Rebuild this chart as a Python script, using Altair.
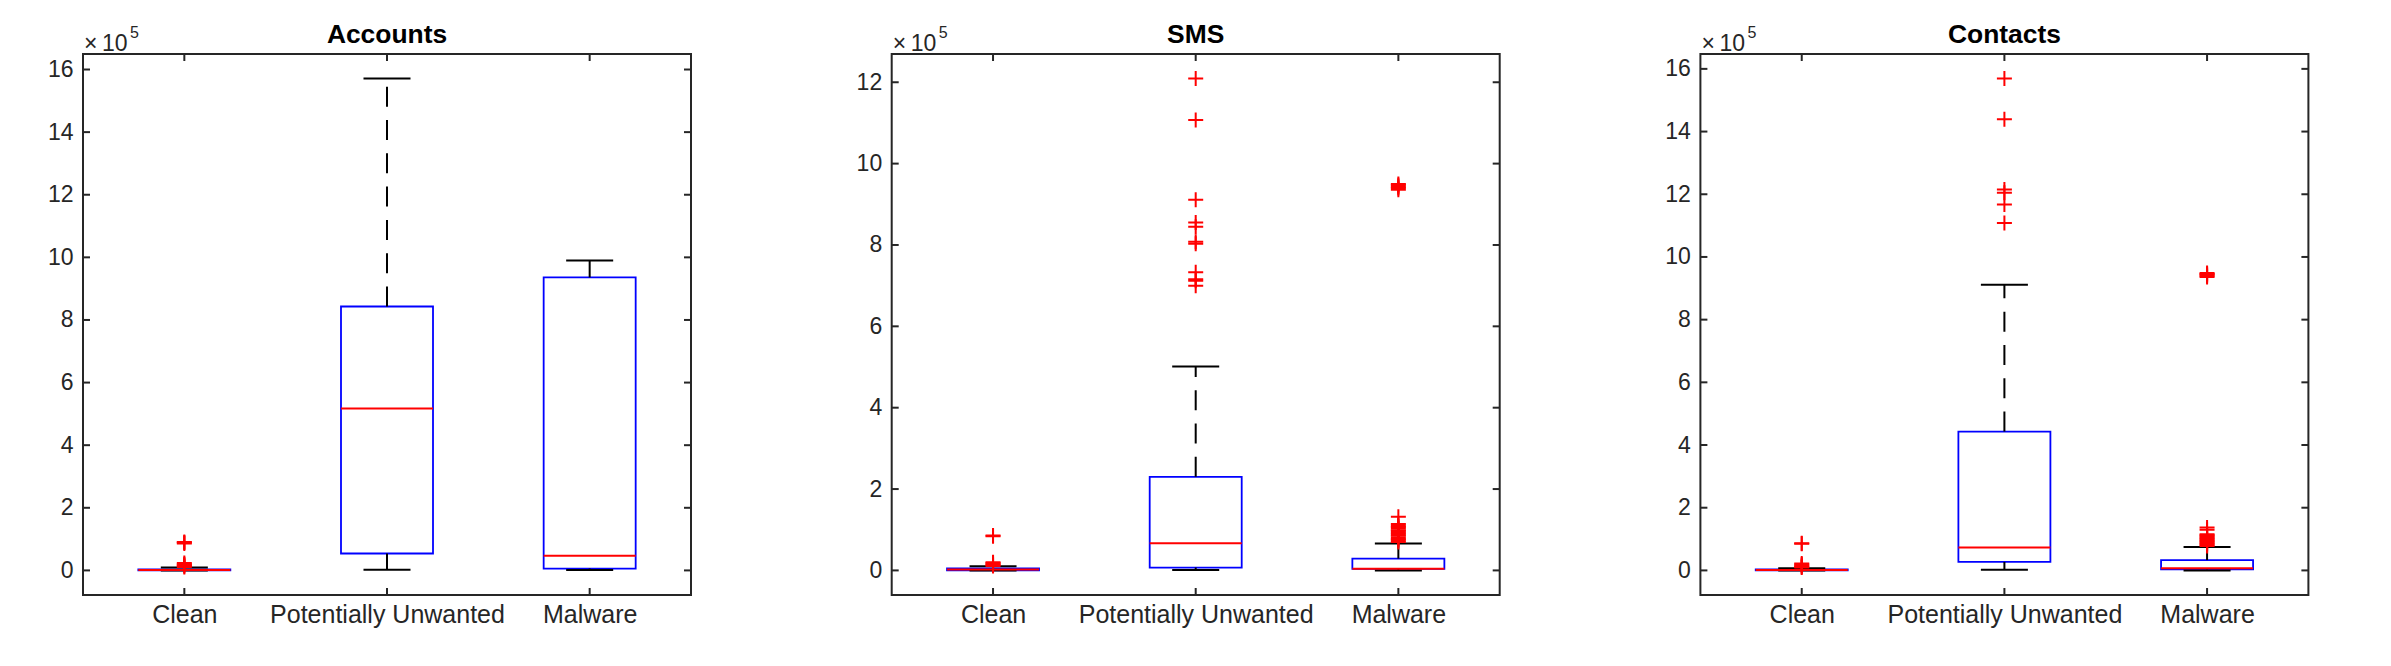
import altair as alt
import pandas as pd

# ---------------- data (values in units of 10^5) ----------------
categories = ["Clean", "Potentially Unwanted", "Malware"]
panel_titles = ["Accounts", "SMS", "Contacts"]

accounts_lo = [0.0, 0.02, 0.01]
accounts_q1 = [0.0, 0.54, 0.06]
accounts_med = [0.01, 5.17, 0.47]
accounts_q3 = [0.03, 8.43, 9.36]
accounts_hi = [0.09, 15.71, 9.90]
accounts_out = [[0.11, 0.14, 0.17, 0.20, 0.24, 0.86, 0.89, 0.91], [], []]
accounts_ticks = [0, 2, 4, 6, 8, 10, 12, 14, 16]

sms_lo = [0.0, 0.01, 0.0]
sms_q1 = [0.0, 0.07, 0.04]
sms_med = [0.02, 0.67, 0.04]
sms_q3 = [0.05, 2.30, 0.29]
sms_hi = [0.10, 5.01, 0.66]
sms_out = [
    [0.11, 0.13, 0.15, 0.18, 0.20, 0.84, 0.86],
    [7.00, 7.12, 7.16, 7.33, 8.03, 8.08, 8.45, 8.55, 9.11, 11.07, 12.09],
    [0.70, 0.74, 0.77, 0.81, 0.85, 0.88, 0.92, 0.96, 0.99, 1.03, 1.07, 1.10,
     1.14, 1.32, 9.36, 9.40, 9.43, 9.47, 9.50],
]
sms_ticks = [0, 2, 4, 6, 8, 10, 12]

contacts_lo = [0.0, 0.02, 0.0]
contacts_q1 = [0.0, 0.27, 0.03]
contacts_med = [0.01, 0.73, 0.07]
contacts_q3 = [0.03, 4.43, 0.33]
contacts_hi = [0.07, 9.11, 0.75]
contacts_out = [
    [0.09, 0.12, 0.15, 0.19, 0.22, 0.85, 0.87],
    [11.08, 11.67, 12.05, 12.15, 14.39, 15.69],
    [0.78, 0.82, 0.85, 0.88, 0.92, 0.95, 0.99, 1.02, 1.05, 1.09, 1.12, 1.15,
     1.30, 1.37, 9.36, 9.40, 9.43, 9.46, 9.49],
]
contacts_ticks = [0, 2, 4, 6, 8, 10, 12, 14, 16]

# ---------------- style ----------------
W, H = 608, 541
FONT = "Liberation Sans"
AX = "#262626"
BOX_HALF = 0.227
CAP_HALF = 0.116
PLUS = "M-1,0L1,0M0,-1L0,1"

label_expr = "[" + ",".join("'" + c + "'" for c in categories) + "][datum.value - 1]"


def txt(s, **kw):
    return alt.Chart(pd.DataFrame({"s": [s]})).mark_text(font=FONT, **kw)


def panel(title, lo, q1, med, q3, hi, outs, ticks):
    idx = list(range(1, len(categories) + 1))
    box_df = pd.DataFrame({"idx": idx, "lo": lo, "q1": q1, "med": med, "q3": q3, "hi": hi})
    out_df = pd.DataFrame(
        [{"idx": i + 1, "v": v} for i, vals in enumerate(outs) for v in vals],
        columns=["idx", "v"],
    )
    tick_df = pd.DataFrame({"t": ticks})
    cat_df = pd.DataFrame({"idx": idx})

    allv = hi + [v for vals in outs for v in vals]
    top, bot = max(allv), min(lo)
    rng = top - bot
    ydom = [bot - 0.05 * rng, top + 0.05 * rng]

    yscale = alt.Scale(domain=ydom, nice=False, zero=False)
    xscale = alt.Scale(domain=[0.5, len(categories) + 0.5], nice=False, zero=False)
    yaxis = alt.Axis(values=ticks, format="d", ticks=False, domain=False, grid=False,
                     labelFont=FONT, labelFontSize=23, labelColor=AX, labelPadding=10)
    xaxis = alt.Axis(values=idx, labelExpr=label_expr, ticks=False, domain=False, grid=False,
                     labelFont=FONT, labelFontSize=25, labelColor=AX, labelPadding=7,
                     labelAngle=0, labelOverlap=False, labelFlush=False, labelLimit=500)

    def X(f):
        return alt.X(f, type="quantitative", scale=xscale, axis=xaxis, title=None)

    def Y(f):
        return alt.Y(f, type="quantitative", scale=yscale, axis=yaxis, title=None)

    base = alt.Chart(box_df).transform_calculate(
        xl=f"datum.idx - {BOX_HALF}", xr=f"datum.idx + {BOX_HALF}",
        cl=f"datum.idx - {CAP_HALF}", cr=f"datum.idx + {CAP_HALF}",
    )

    box = base.mark_rect(filled=False, color="#0000FF", strokeWidth=1.8).encode(
        x=X("xl"), x2="xr", y=Y("q1"), y2="q3")
    wh_up = base.mark_rule(color="#000000", strokeWidth=2, strokeDash=[20, 13.3]).encode(
        x=X("idx"), y=Y("q3"), y2="hi")
    wh_lo = base.mark_rule(color="#000000", strokeWidth=2, strokeDash=[20, 13.3]).encode(
        x=X("idx"), y=Y("q1"), y2="lo")
    cap_up = base.mark_rule(color="#000000", strokeWidth=2).encode(
        x=X("cl"), x2="cr", y=Y("hi"))
    cap_lo = base.mark_rule(color="#000000", strokeWidth=2).encode(
        x=X("cl"), x2="cr", y=Y("lo"))
    median = base.mark_rule(color="#FF0000", strokeWidth=2).encode(
        x=X("xl"), x2="xr", y=Y("med"))
    outl = alt.Chart(out_df).mark_point(shape=PLUS, filled=False, color="#FF0000",
                                        strokeWidth=2, size=225, opacity=1).encode(
        x=X("idx"), y=Y("v"))

    tk = dict(color=AX, strokeWidth=2)
    ytl = alt.Chart(tick_df).mark_rule(**tk).encode(y=Y("t"), x=alt.value(0), x2=alt.value(7))
    ytr = alt.Chart(tick_df).mark_rule(**tk).encode(y=Y("t"), x=alt.value(W - 7), x2=alt.value(W))
    xtb = alt.Chart(cat_df).mark_rule(**tk).encode(x=X("idx"), y=alt.value(H - 7), y2=alt.value(H))
    xtt = alt.Chart(cat_df).mark_rule(**tk).encode(x=X("idx"), y=alt.value(0), y2=alt.value(7))

    ttl = txt(title, fontSize=26.4, fontWeight="bold", color="#000000",
              align="center", baseline="alphabetic").encode(
        text="s:N", x=alt.value(W / 2), y=alt.value(-11.3))
    times = txt("\u00d7", fontSize=23, color=AX, align="left", baseline="alphabetic").encode(
        text="s:N", x=alt.value(1), y=alt.value(-3.5))
    ten = txt("10", fontSize=23, color=AX, align="left", baseline="alphabetic").encode(
        text="s:N", x=alt.value(19), y=alt.value(-3.5))
    five = txt("5", fontSize=16, color=AX, align="left", baseline="alphabetic").encode(
        text="s:N", x=alt.value(47), y=alt.value(-15.7))

    return alt.layer(box, wh_up, wh_lo, cap_up, cap_lo, median, outl,
                     ytl, ytr, xtb, xtt, ttl, times, ten, five).properties(width=W, height=H)


p1 = panel(panel_titles[0], accounts_lo, accounts_q1, accounts_med, accounts_q3, accounts_hi,
           accounts_out, accounts_ticks)
p2 = panel(panel_titles[1], sms_lo, sms_q1, sms_med, sms_q3, sms_hi, sms_out, sms_ticks)
p3 = panel(panel_titles[2], contacts_lo, contacts_q1, contacts_med, contacts_q3, contacts_hi,
           contacts_out, contacts_ticks)

chart = alt.hconcat(p1, p2, p3, spacing=200.7, bounds="flush").properties(
    padding={"left": 46, "top": 20, "right": 5, "bottom": 5},
    background="white",
).configure_view(stroke=AX, strokeWidth=2)

chart.save("out.html", embed_options={"renderer": "svg", "actions": False})
